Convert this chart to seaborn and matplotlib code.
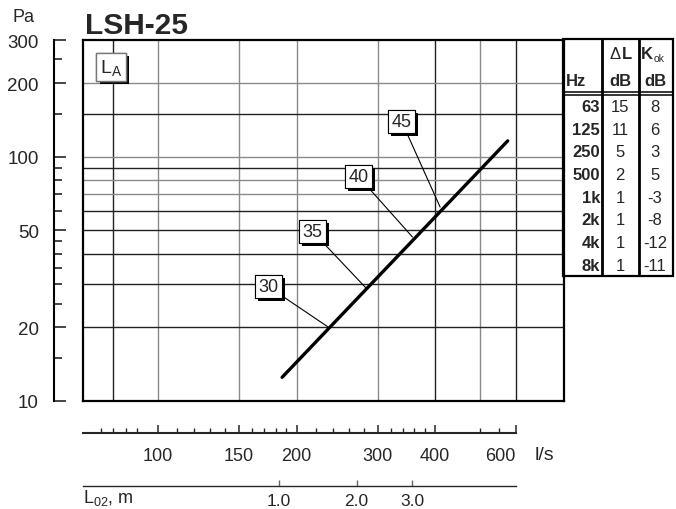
import numpy as np
import seaborn as sns
import matplotlib.pyplot as plt
from matplotlib import patheffects
from matplotlib.patches import Rectangle
from matplotlib.ticker import NullFormatter
from matplotlib.transforms import ScaledTranslation

# main curve: air flow (l/s) vs pressure drop (Pa)
flow = [186, 575]
pressure = [12.5, 116]

# sound level marks on the curve
level_labels = ['30', '35', '40', '45']
level_flow = [234, 283, 357, 410]
level_pa = [20.1, 29.0, 46.9, 62.2]

# grid lines in the plot area
grid_x = [80, 100, 150, 200, 300, 400, 500, 600]
grid_x_dark = [80, 400, 600]
grid_y = [20, 30, 40, 50, 60, 70, 80, 90, 100, 150, 200]
grid_y_dark = [20, 30, 40, 50, 60, 90, 150]

# pressure scale
pa_major = [10, 20, 50, 100, 200, 300]
pa_minor = [15, 25, 30, 35, 40, 45, 60, 70, 80, 90, 150, 250]

# flow scale
ls_major = [100, 150, 200, 300, 400, 600]
ls_minor = [75, 80, 85, 90, 110, 120, 130, 140, 160, 170, 180, 190,
            220, 240, 260, 280, 320, 340, 360, 380, 500, 550]

# throw length scale
l02_flow = [183, 270, 357]
l02_labels = ['1.0', '2.0', '3.0']

# correction table
hz = ['63', '125', '250', '500', '1k', '2k', '4k', '8k']
delta_l = [15, 11, 5, 2, 1, 1, 1, 1]
k_ok = [8, 6, 3, 5, -3, -8, -12, -11]

xlim = (68.7, 762)
ylim = (10, 300)

sns.set_style('white')
plt.rcParams['font.family'] = ['Liberation Sans', 'DejaVu Sans']
plt.rcParams['mathtext.fontset'] = 'custom'
plt.rcParams['mathtext.rm'] = 'Liberation Sans'
plt.rcParams['mathtext.it'] = 'Liberation Sans:italic'
plt.rcParams['mathtext.bf'] = 'Liberation Sans:bold'

W, H = 676, 510


def fx(px):
    return px / W


def fy(py):
    return 1 - py / H


fig = plt.figure(figsize=(W / 100, H / 100), dpi=100)

# main plot area
ax = fig.add_axes([fx(83), fy(402), (564 - 83) / W, (402 - 41) / H])
ax.set_xscale('log')
ax.set_yscale('log')
ax.set_xlim(*xlim)
ax.set_ylim(*ylim)
ax.tick_params(which='both', bottom=False, left=False, labelbottom=False, labelleft=False)
for s in ax.spines.values():
    s.set_color('black')
    s.set_linewidth(1.6)

for v in grid_x:
    ax.axvline(v, color='#222222' if v in grid_x_dark else '#8a8a8a', lw=1.0, zorder=1)
for v in grid_y:
    ax.axhline(v, color='#222222' if v in grid_y_dark else '#8a8a8a', lw=1.0, zorder=1)

sns.lineplot(x=flow, y=pressure, ax=ax, color='black', linewidth=2.4, zorder=3)

shadow = [patheffects.withSimplePatchShadow(offset=(2.2, -2.2), shadow_rgbFace='black', alpha=1.0),
          patheffects.Normal()]

# label boxes with leader lines
offsets = [(-43, 29), (-38.5, 40.7), (-38.9, 43.6), (-27.7, 61.6)]
for lab, q, p, off in zip(level_labels, level_flow, level_pa, offsets):
    t = ax.annotate(lab, xy=(q, p), xytext=off, textcoords='offset points',
                    ha='center', va='center', fontsize=13, zorder=4,
                    bbox=dict(boxstyle='square,pad=0.18', fc='white', ec='black', lw=0.8),
                    arrowprops=dict(arrowstyle='-', lw=0.8, color='black', shrinkA=0, shrinkB=0))
    t.get_bbox_patch().set_path_effects(shadow)

la = ax.text(0.059, 0.925, r'L$_\mathrm{A}$', transform=ax.transAxes, ha='center', va='center',
             fontsize=14, zorder=4,
             bbox=dict(boxstyle='square,pad=0.2', fc='white', ec='#777777', lw=1.0))
la.get_bbox_patch().set_path_effects(shadow)

# pressure axis on the left, set apart from the frame
ay = fig.add_axes([fx(54), fy(402), 0.001, (402 - 41) / H])
ay.set_yscale('log')
ay.set_ylim(*ylim)
ay.set_xticks([])
for k in ['top', 'right', 'bottom']:
    ay.spines[k].set_visible(False)
ay.spines['left'].set_linewidth(1.5)
ay.spines['left'].set_color('black')
ay.patch.set_visible(False)
ay.set_yticks(pa_major, [str(v) for v in pa_major])
ay.set_yticks(pa_minor, minor=True)
ay.yaxis.set_minor_formatter(NullFormatter())
ay.tick_params(axis='y', which='major', left=True, direction='in', length=8.4, width=1.2,
               pad=11, labelsize=13.5)
ay.tick_params(axis='y', which='minor', left=True, direction='in', length=5.5, width=1.2)

# flow scale below the plot
axb = fig.add_axes([fx(83), fy(434), (564 - 83) / W, 0.001])
axb.set_xscale('log')
axb.set_xlim(*xlim)
axb.set_yticks([])
for k in ['top', 'right', 'left']:
    axb.spines[k].set_visible(False)
axb.spines['bottom'].set_linewidth(1.5)
axb.spines['bottom'].set_bounds(xlim[0], ls_major[-1])
axb.patch.set_visible(False)
axb.set_xticks(ls_major, [str(v) for v in ls_major])
axb.set_xticks(ls_minor, minor=True)
axb.xaxis.set_minor_formatter(NullFormatter())
axb.tick_params(axis='x', which='major', bottom=True, direction='in', length=6, width=1.1,
                pad=10, labelsize=13)
axb.tick_params(axis='x', which='minor', bottom=True, direction='in', length=3.5, width=1.0)
# the last flow label sits a little left of its tick, as in the original
last = axb.xaxis.get_major_ticks()[-1].label1
last.set_transform(last.get_transform() + ScaledTranslation(-0.16, 0, fig.dpi_scale_trans))

# throw length scale
axl = fig.add_axes([fx(83), fy(487), (564 - 83) / W, 0.001])
axl.set_xscale('log')
axl.set_xlim(*xlim)
axl.set_yticks([])
for k in ['top', 'right', 'left']:
    axl.spines[k].set_visible(False)
axl.spines['bottom'].set_linewidth(1.0)
axl.spines['bottom'].set_bounds(xlim[0], ls_major[-1])
axl.patch.set_visible(False)
axl.set_xticks(l02_flow, l02_labels)
axl.xaxis.set_minor_locator(plt.NullLocator())
axl.tick_params(axis='x', which='major', bottom=True, direction='in', length=4, width=1.0,
                color='#666666', pad=5, labelsize=12.5)

fig.text(fx(535), fy(455), 'l/s', ha='left', va='center', fontsize=14)
fig.text(fx(83), fy(498), r'L$_\mathrm{02}$, m', ha='left', va='center', fontsize=13)
fig.text(fx(24), fy(18), 'Pa', ha='center', va='center', fontsize=13)
fig.text(fx(85), fy(34), 'LSH-25', ha='left', va='baseline', fontsize=21.5, fontweight='bold')

# correction table on the right
tab = fig.add_axes([fx(563), fy(277), 110 / W, 237 / H])
tab.set_xlim(0, 110)
tab.set_ylim(237, 0)
tab.axis('off')
tab.add_patch(Rectangle((0, 0), 110, 237, fill=False, lw=1.6, ec='black', clip_on=False))
tab.vlines([39, 76], 0, 237, colors='black', lw=2.0)
tab.hlines([53, 56], 0, 110, colors='black', lw=1.1)

fs = 12
tab.text(3, 42, 'Hz', ha='left', va='center', fontsize=fs, fontweight='bold')
tab.text(57, 42, 'dB', ha='center', va='center', fontsize=fs, fontweight='bold')
tab.text(92, 42, 'dB', ha='center', va='center', fontsize=fs, fontweight='bold')
tab.text(58, 15, '\u0394', ha='right', va='center', fontsize=fs)
tab.text(58.5, 15, 'L', ha='left', va='center', fontsize=fs, fontweight='bold')
tab.text(78, 15, 'K', ha='left', va='center', fontsize=fs, fontweight='bold')
tab.text(91, 19, 'ok', ha='left', va='center', fontsize=7.5)

row_y = 56 + 11.35 + np.arange(len(hz)) * 22.7
for y, f, d, k in zip(row_y, hz, delta_l, k_ok):
    tab.text(37, y, f, ha='right', va='center', fontsize=fs, fontweight='bold')
    tab.text(57, y, str(d), ha='center', va='center', fontsize=fs)
    tab.text(92, y, str(k), ha='center', va='center', fontsize=fs)

fig.savefig('out.png', dpi=100)
